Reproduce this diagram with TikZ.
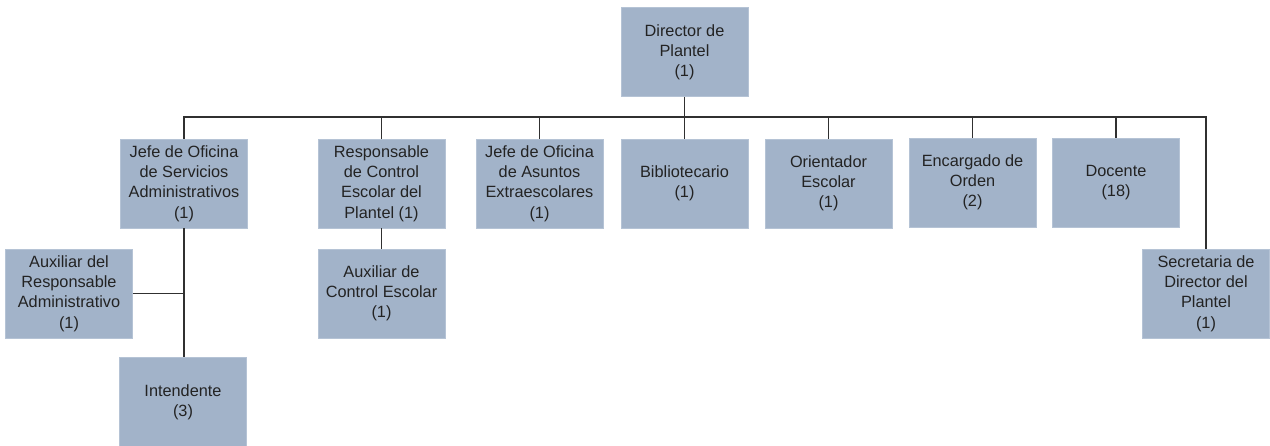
\documentclass[tikz,border=0pt]{standalone}
\usepackage{fontspec}
\setmainfont{Liberation Sans}
\definecolor{boxfill}{HTML}{A2B3C9}
\definecolor{boxedge}{HTML}{B5C3D5}
\definecolor{linkcol}{HTML}{303030}
\definecolor{txtcol}{HTML}{232323}
\begin{document}
\begin{tikzpicture}[x=1pt,y=-1pt,
  unit/.style={draw=boxedge, line width=0.6pt, fill=boxfill, text=txtcol,
    minimum width=127pt, minimum height=89pt, inner sep=0pt, align=center,
    font=\fontsize{16.3}{20.2}\selectfont},
  link/.style={draw=linkcol, line width=1.2pt}]
\useasboundingbox (0,0) rectangle (1270,445);

% head
\node[unit] (dir) at (684.5,52) {Director de\\Plantel\\(1)};

% second level
\node[unit] (jso) at (184,183.5) {Jefe de Oficina\\de Servicios\\Administrativos\\(1)};
\node[unit] (rce) at (381.5,183.5) {Responsable\\de Control\\Escolar del\\Plantel (1)};
\node[unit] (jae) at (539.5,183.5) {Jefe de Oficina\\de Asuntos\\Extraescolares\\(1)};
\node[unit] (bib) at (684.5,183.5) {Bibliotecario\\(1)};
\node[unit] (ori) at (828.5,183.5) {Orientador\\Escolar\\(1)};
\node[unit] (eno) at (972.5,182.5) {Encargado de\\Orden\\(2)};
\node[unit] (doc) at (1116,182.5) {Docente\\(18)};

% lower level
\node[unit] (aux) at (69,293.5) {Auxiliar del\\Responsable\\Administrativo\\(1)};
\node[unit] (int) at (183,402) {Intendente\\(3)};
\node[unit] (ace) at (381.5,293.5) {Auxiliar de\\Control Escolar\\(1)};
\node[unit] (sec) at (1206,293.5) {Secretaria de\\Director del\\Plantel\\(1)};

% connectors
\coordinate (bus) at (684.5,117);
\draw[link] (dir.south) -- (bus);
\draw[link] (jso.north) -- (jso.north |- bus) -- (sec.north |- bus) -- (sec.north);
\foreach \n in {rce,jae,bib,ori,eno,doc}
  \draw[link] (\n.north) -- (\n.north |- bus);
\draw[link] (jso.south) -- (jso.south |- int.north);
\draw[link] (aux.east) -- (aux.east -| jso.south);
\draw[link] (rce.south) -- (ace.north);
\end{tikzpicture}
\end{document}
